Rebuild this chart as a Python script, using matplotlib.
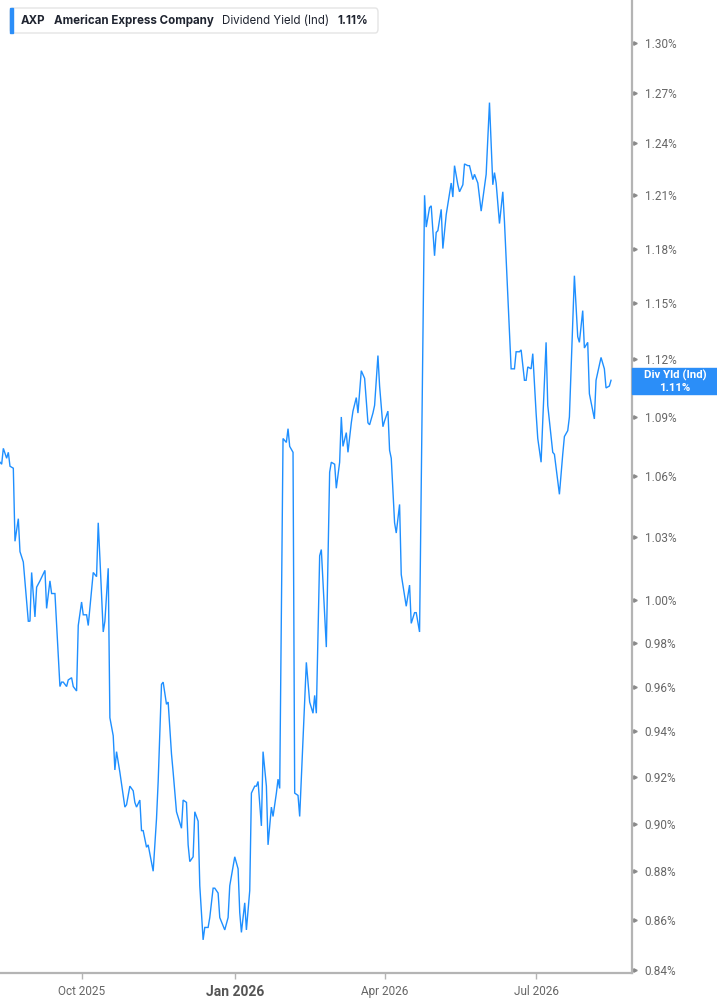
import matplotlib
matplotlib.use("Agg")
import matplotlib.pyplot as plt
import matplotlib.dates as mdates
from matplotlib.patches import Rectangle, FancyBboxPatch
from matplotlib.ticker import NullLocator
import pandas as pd

plt.rcParams['font.family'] = ['Roboto', 'DejaVu Sans']

# AXP dividend yield (indicated), %
dates = [
    "2025-08-13", "2025-08-14", "2025-08-15", "2025-08-17", "2025-08-18", "2025-08-19",
    "2025-08-21", "2025-08-22", "2025-08-24", "2025-08-25", "2025-08-27", "2025-08-30",
    "2025-08-31", "2025-09-01", "2025-09-03", "2025-09-04", "2025-09-06", "2025-09-09",
    "2025-09-10", "2025-09-12", "2025-09-13", "2025-09-15", "2025-09-18", "2025-09-19",
    "2025-09-20", "2025-09-22", "2025-09-23", "2025-09-25", "2025-09-26", "2025-09-28",
    "2025-09-29", "2025-10-01", "2025-10-02", "2025-10-04", "2025-10-05", "2025-10-08",
    "2025-10-10", "2025-10-11", "2025-10-12", "2025-10-14", "2025-10-15", "2025-10-17",
    "2025-10-18", "2025-10-20", "2025-10-21", "2025-10-22", "2025-10-24", "2025-10-27",
    "2025-10-28", "2025-10-30", "2025-11-01", "2025-11-02", "2025-11-03", "2025-11-05",
    "2025-11-06", "2025-11-07", "2025-11-09", "2025-11-10", "2025-11-13", "2025-11-15",
    "2025-11-16", "2025-11-18", "2025-11-19", "2025-11-21", "2025-11-22", "2025-11-24",
    "2025-11-25", "2025-11-27", "2025-11-30", "2025-12-01", "2025-12-03", "2025-12-04",
    "2025-12-05", "2025-12-07", "2025-12-08", "2025-12-10", "2025-12-11", "2025-12-13",
    "2025-12-14", "2025-12-16", "2025-12-17", "2025-12-19", "2025-12-20", "2025-12-22",
    "2025-12-23", "2025-12-26", "2025-12-28", "2025-12-29", "2025-12-30", "2026-01-01",
    "2026-01-03", "2026-01-04", "2026-01-05", "2026-01-07", "2026-01-08", "2026-01-10",
    "2026-01-11", "2026-01-13", "2026-01-14", "2026-01-15", "2026-01-17", "2026-01-18",
    "2026-01-20", "2026-01-21", "2026-01-23", "2026-01-24", "2026-01-26", "2026-01-27",
    "2026-01-28", "2026-01-30", "2026-02-01", "2026-02-02", "2026-02-03", "2026-02-05",
    "2026-02-06", "2026-02-08", "2026-02-09", "2026-02-12", "2026-02-13", "2026-02-15",
    "2026-02-17", "2026-02-18", "2026-02-19", "2026-02-21", "2026-02-22", "2026-02-25",
    "2026-02-27", "2026-02-28", "2026-03-02", "2026-03-03", "2026-03-05", "2026-03-06",
    "2026-03-07", "2026-03-09", "2026-03-10", "2026-03-12", "2026-03-13", "2026-03-15",
    "2026-03-16", "2026-03-18", "2026-03-19", "2026-03-20", "2026-03-22", "2026-03-23",
    "2026-03-25", "2026-03-26", "2026-03-28", "2026-03-29", "2026-03-31", "2026-04-01",
    "2026-04-03", "2026-04-04", "2026-04-05", "2026-04-07", "2026-04-08", "2026-04-10",
    "2026-04-11", "2026-04-13", "2026-04-14", "2026-04-16", "2026-04-17", "2026-04-19",
    "2026-04-20", "2026-04-22", "2026-04-25", "2026-04-26", "2026-04-28", "2026-04-29",
    "2026-05-01", "2026-05-02", "2026-05-03", "2026-05-05", "2026-05-06", "2026-05-08",
    "2026-05-11", "2026-05-12", "2026-05-13", "2026-05-15", "2026-05-16", "2026-05-18",
    "2026-05-19", "2026-05-21", "2026-05-22", "2026-05-24", "2026-05-25", "2026-05-27",
    "2026-05-29", "2026-06-01", "2026-06-03", "2026-06-05", "2026-06-06", "2026-06-07",
    "2026-06-09", "2026-06-11", "2026-06-12", "2026-06-16", "2026-06-18", "2026-06-19",
    "2026-06-21", "2026-06-22", "2026-06-24", "2026-06-25", "2026-06-26", "2026-06-28",
    "2026-06-29", "2026-07-01", "2026-07-02", "2026-07-04", "2026-07-05", "2026-07-07",
    "2026-07-08", "2026-07-11", "2026-07-12", "2026-07-15", "2026-07-17", "2026-07-18",
    "2026-07-20", "2026-07-21", "2026-07-24", "2026-07-26", "2026-07-27", "2026-07-29",
    "2026-07-30", "2026-08-01", "2026-08-02", "2026-08-05", "2026-08-06", "2026-08-09",
    "2026-08-11", "2026-08-12", "2026-08-14", "2026-08-15",
]
yield_pct = [
    1.067, 1.066, 1.074, 1.069, 1.072, 1.065,
    1.064, 1.028, 1.039, 1.023, 1.018, 0.990,
    0.990, 1.013, 0.992, 1.006, 1.009, 1.014,
    0.996, 1.009, 1.003, 1.003, 0.960, 0.962,
    0.962, 0.960, 0.963, 0.964, 0.960, 0.958,
    0.988, 0.999, 0.993, 0.993, 0.988, 1.013,
    1.011, 1.037, 1.020, 0.985, 0.990, 1.015,
    0.946, 0.938, 0.923, 0.931, 0.922, 0.907,
    0.908, 0.916, 0.914, 0.909, 0.907, 0.910,
    0.897, 0.897, 0.890, 0.891, 0.880, 0.902,
    0.918, 0.961, 0.962, 0.952, 0.953, 0.930,
    0.922, 0.905, 0.898, 0.910, 0.909, 0.891,
    0.884, 0.886, 0.905, 0.901, 0.874, 0.852,
    0.857, 0.857, 0.861, 0.873, 0.873, 0.871,
    0.861, 0.856, 0.861, 0.874, 0.878, 0.886,
    0.881, 0.863, 0.855, 0.867, 0.856, 0.872,
    0.913, 0.916, 0.916, 0.918, 0.899, 0.931,
    0.916, 0.891, 0.907, 0.903, 0.913, 0.919,
    0.915, 1.079, 1.077, 1.084, 1.075, 1.072,
    0.913, 0.912, 0.903, 0.953, 0.971, 0.953,
    0.948, 0.956, 0.948, 1.021, 1.024, 0.978,
    1.062, 1.067, 1.066, 1.054, 1.067, 1.090,
    1.075, 1.082, 1.072, 1.087, 1.093, 1.100,
    1.092, 1.114, 1.112, 1.110, 1.087, 1.086,
    1.092, 1.096, 1.122, 1.106, 1.085, 1.088,
    1.093, 1.073, 1.069, 1.037, 1.032, 1.046,
    1.012, 1.002, 0.997, 1.007, 0.989, 0.994,
    0.994, 0.985, 1.210, 1.192, 1.203, 1.204,
    1.176, 1.189, 1.190, 1.202, 1.180, 1.199,
    1.217, 1.209, 1.227, 1.216, 1.212, 1.216,
    1.228, 1.227, 1.227, 1.219, 1.222, 1.217,
    1.201, 1.222, 1.264, 1.216, 1.223, 1.217,
    1.194, 1.212, 1.195, 1.115, 1.115, 1.124,
    1.124, 1.125, 1.109, 1.109, 1.116, 1.115,
    1.123, 1.092, 1.079, 1.067, 1.088, 1.129,
    1.096, 1.072, 1.071, 1.051, 1.071, 1.080,
    1.083, 1.090, 1.165, 1.132, 1.129, 1.146,
    1.126, 1.129, 1.102, 1.089, 1.109, 1.121,
    1.115, 1.105, 1.106, 1.109,
]

y_ticks = [0.84, 0.86, 0.88, 0.90, 0.92, 0.94, 0.96, 0.98, 1.00, 1.03,
           1.06, 1.09, 1.12, 1.15, 1.18, 1.21, 1.24, 1.27, 1.30]
x_tick_dates = ["2025-10-01", "2026-01-01", "2026-04-01", "2026-07-01"]
x_tick_labels = ["Oct 2025", "Jan 2026", "Apr 2026", "Jul 2026"]

ticker = "AXP"
company = "American Express Company"
metric = "Dividend Yield (Ind)"
last_value = 1.11

line_blue = "#1e8fff"
box_blue = "#2b8ef8"
axis_grey = "#b4b4b4"
label_grey = "#666666"

W, H = 717, 1005
fig = plt.figure(figsize=(W / 100, H / 100), dpi=100)
ax = fig.add_axes([0, 32.5 / H, 632 / W, 972.5 / H])

x = pd.to_datetime(dates)
ax.plot(x, yield_pct, color=line_blue, lw=1.0, solid_joinstyle="miter")

# log y axis on the right
ax.set_yscale("log")
ax.set_ylim(0.839, 1.3266)
ax.yaxis.set_minor_locator(NullLocator())
ax.yaxis.tick_right()
ax.set_yticks(y_ticks)
ax.set_yticklabels([f"{v:.2f}%" for v in y_ticks])
ax.tick_params(axis="y", length=0, pad=9, labelsize=8.5, labelcolor=label_grey)
ax.plot([1.004] * len(y_ticks), y_ticks, ls="none", marker=">", ms=2.5,
        color="#8a8a8a", transform=ax.get_yaxis_transform(), clip_on=False)

x0 = mdates.date2num(pd.Timestamp("2025-08-13"))
ax.set_xlim(x0, x0 + 379.6)
ax.set_xticks(mdates.date2num(pd.to_datetime(x_tick_dates)))
ax.set_xticklabels(x_tick_labels)
ax.tick_params(axis="x", length=4, width=1, color=axis_grey, pad=5,
               labelsize=8.5, labelcolor=label_grey)
jan = ax.get_xticklabels()[1]
jan.set_fontweight("bold")
jan.set_fontsize(10)
jan.set_color("#555555")

for side in ["top", "left"]:
    ax.spines[side].set_visible(False)
for side in ["right", "bottom"]:
    ax.spines[side].set_color(axis_grey)
    ax.spines[side].set_linewidth(1.6)

# last value tag
fig.canvas.draw()
y_mid = ax.transData.transform((x0, last_value))[1]
tag_h = 26
fig.patches.append(Rectangle((632 / W, (y_mid - tag_h / 2 - 3) / H), 85 / W, tag_h / H,
                             transform=fig.transFigure, color=box_blue, zorder=5))
fig.text(675 / W, (y_mid - 3) / H, f"Div Yld (Ind)\n{last_value:.2f}%", color="white",
         fontsize=8.2, fontweight="bold", ha="center", va="center", linespacing=1.2,
         zorder=6)

# header legend box
fig.patches.append(FancyBboxPatch((10 / W, (H - 33) / H), 368 / W, 25 / H,
                                  boxstyle="round,pad=0,rounding_size=0.004",
                                  transform=fig.transFigure, fc="white", ec="#e4e4e4",
                                  lw=1, zorder=5))
fig.patches.append(Rectangle((10 / W, (H - 33) / H), 3 / W, 25 / H,
                             transform=fig.transFigure, color=box_blue, zorder=6))

hdr = dict(family=["Inter", "DejaVu Sans"], fontsize=8.3, color="#1f2430",
           va="center", ha="left", zorder=7)
pieces = [(ticker, "bold"), (company, "bold"), (metric, "normal"),
          (f"{last_value:.2f}%", "bold")]
renderer = fig.canvas.get_renderer()
x_px = 20.5
for text, weight in pieces:
    t = fig.text(x_px / W, (H - 21) / H, text, fontweight=weight, **hdr)
    x_px = t.get_window_extent(renderer).x1 + 8.5

fig.savefig("out.png", dpi=100)
